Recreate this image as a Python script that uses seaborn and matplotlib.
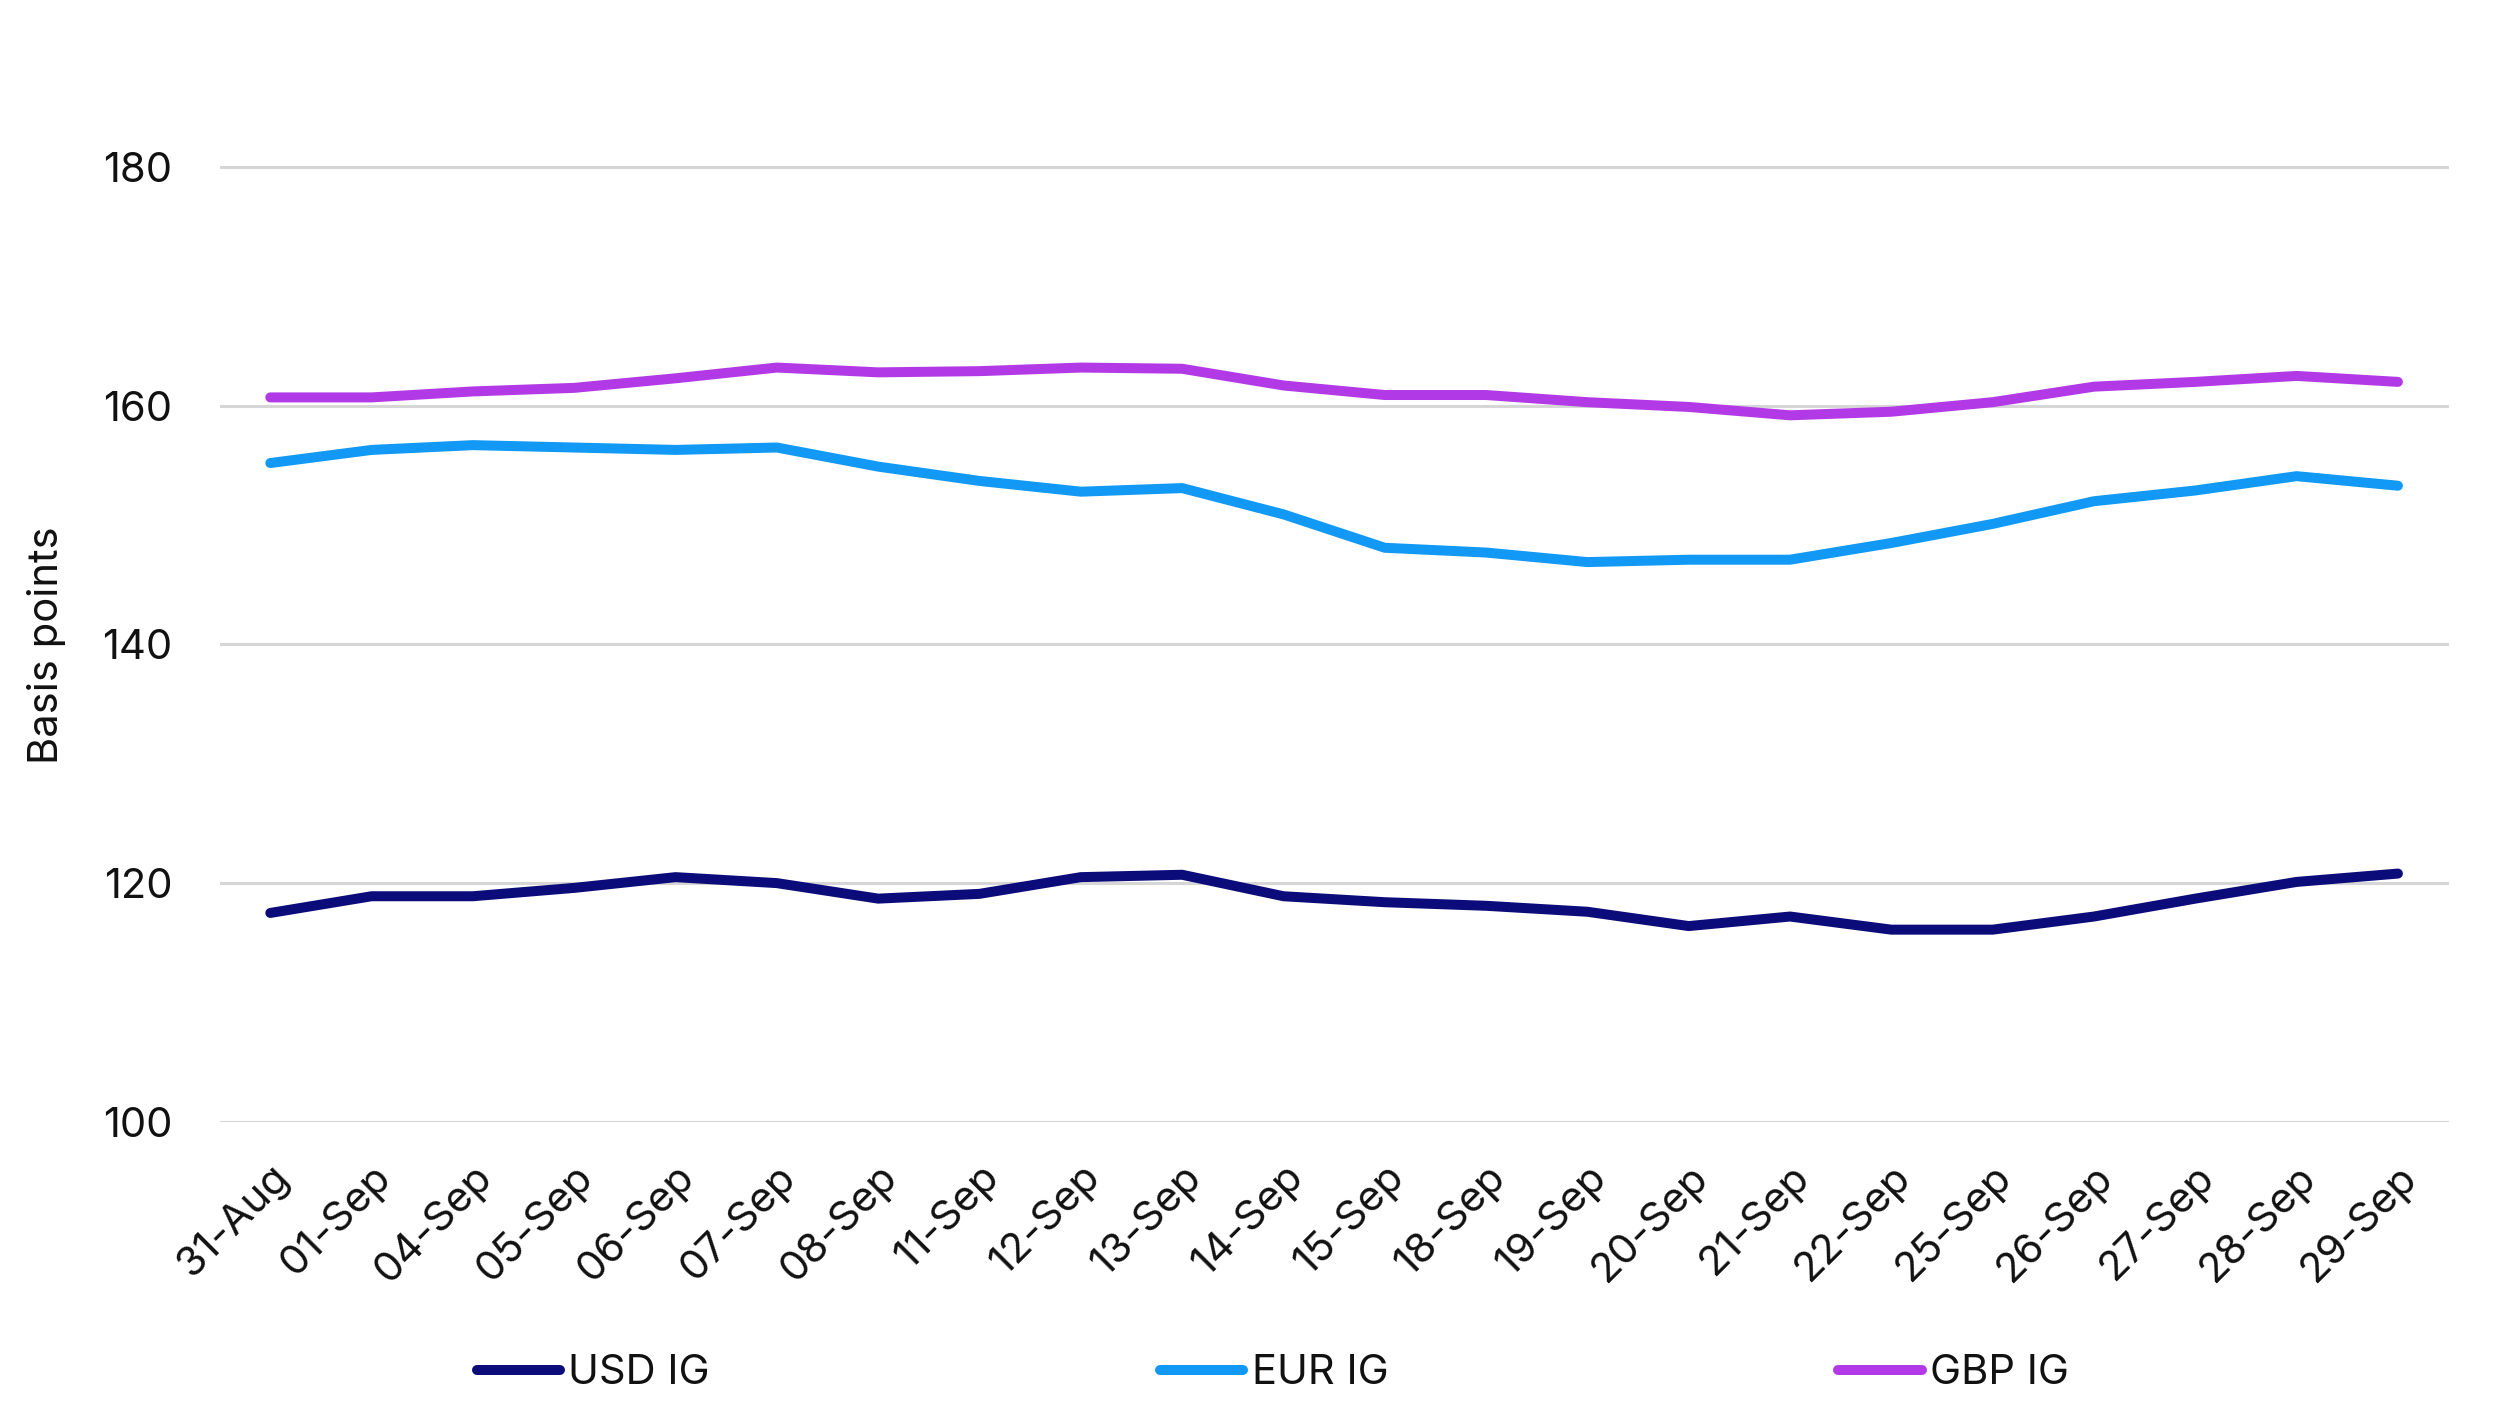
"""IG credit spreads by currency, 31-Aug to 29-Sep (basis points)."""

from __future__ import annotations

import matplotlib

matplotlib.use("Agg")

import matplotlib.pyplot as plt
import pandas as pd
import seaborn as sns


DATES = [
    "31-Aug", "01-Sep", "04-Sep", "05-Sep", "06-Sep", "07-Sep", "08-Sep",
    "11-Sep", "12-Sep", "13-Sep", "14-Sep", "15-Sep", "18-Sep", "19-Sep",
    "20-Sep", "21-Sep", "22-Sep", "25-Sep", "26-Sep", "27-Sep", "28-Sep",
    "29-Sep",
]

USD_IG = [
    117.5, 118.9, 118.9, 119.6, 120.5, 120.0, 118.7, 119.1, 120.5, 120.7, 118.9,
    118.4, 118.1, 117.6, 116.4, 117.2, 116.1, 116.1, 117.2, 118.7, 120.1, 120.8,
]
EUR_IG = [
    155.2, 156.3, 156.7, 156.5, 156.3, 156.5, 154.9, 153.7, 152.8, 153.1, 150.9,
    148.1, 147.7, 146.9, 147.1, 147.1, 148.5, 150.1, 152.0, 152.9, 154.1, 153.3,
]
GBP_IG = [
    160.7, 160.7, 161.2, 161.5, 162.3, 163.2, 162.8, 162.9, 163.2, 163.1, 161.7,
    160.9, 160.9, 160.3, 159.9, 159.2, 159.5, 160.3, 161.6, 162.0, 162.5, 162.0,
]

SERIES = ["USD IG", "EUR IG", "GBP IG"]
COLORS = ["#0B0B7A", "#1199F5", "#B23AE6"]
Y_TICKS = [100, 120, 140, 160, 180]

FONT = ["Inter", "DejaVu Sans"]
FS = 15


def build_frame() -> pd.DataFrame:
    parts = []
    for name, values in zip(SERIES, [USD_IG, EUR_IG, GBP_IG]):
        parts.append(pd.DataFrame({"date": DATES, "value": values, "series": name}))
    df = pd.concat(parts, ignore_index=True)
    df["date"] = pd.Categorical(df["date"], categories=DATES, ordered=True)
    return df


def main() -> None:
    sns.set_theme(style="white")
    plt.rcParams["font.family"] = FONT
    plt.rcParams["text.color"] = "#111111"

    df = build_frame()

    fig = plt.figure(figsize=(12.48, 7.02), dpi=200)
    ax = fig.add_axes([0.088, 0.201, 0.893, 0.765])

    sns.lineplot(
        data=df,
        x="date",
        y="value",
        hue="series",
        hue_order=SERIES,
        palette=COLORS,
        linewidth=3.6,
        sort=False,
        ax=ax,
        legend=True,
    )

    ax.set_xlim(-0.5, len(DATES) - 0.5)
    ax.set_ylim(100, 190)
    ax.set_yticks(Y_TICKS)
    ax.grid(axis="y", color="#D6D6D6", linewidth=1.1)
    ax.grid(axis="x", visible=False)
    ax.set_axisbelow(True)
    for side in ["top", "right", "left", "bottom"]:
        ax.spines[side].set_visible(False)

    ax.tick_params(axis="y", length=0, pad=17, labelsize=FS, labelcolor="#111111")
    ax.tick_params(axis="x", length=0, pad=13, labelsize=FS, labelcolor="#111111")
    ax.set_xticks(range(len(DATES)))
    ax.set_xticklabels(DATES, rotation=45, ha="right", rotation_mode="anchor")

    ax.set_xlabel("")
    ax.set_ylabel("Basis points", fontsize=FS, color="#111111")
    ax.yaxis.set_label_coords(-0.069, 0.444)

    handles, labels = ax.get_legend_handles_labels()
    ax.get_legend().remove()
    leg = fig.legend(
        handles,
        labels,
        loc="center",
        bbox_to_anchor=(0.51, 0.022),
        ncol=3,
        frameon=False,
        fontsize=FS,
        handlelength=2.0,
        handletextpad=0.2,
        columnspacing=10.8,
    )
    for line in leg.get_lines():
        line.set_linewidth(3.6)

    fig.savefig("out.png", dpi=200)
    plt.close(fig)


if __name__ == "__main__":
    main()
